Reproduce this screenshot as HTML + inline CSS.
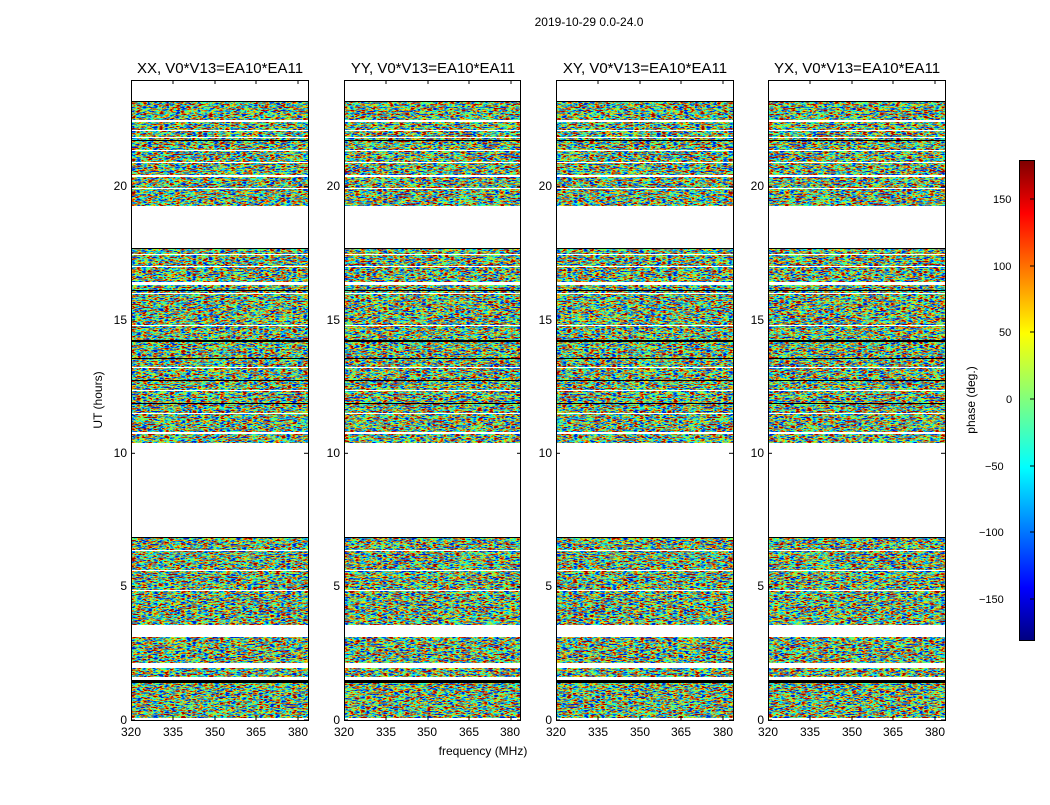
<!DOCTYPE html>
<html><head><meta charset="utf-8"><style>
body{margin:0;background:#fff}
svg text{font-family:"Liberation Sans",sans-serif}
</style></head><body>
<svg width="1050" height="800" xmlns="http://www.w3.org/2000/svg">
<defs>
<linearGradient id="jet" x1="0" y1="1" x2="0" y2="0">
<stop offset="0" stop-color="#00007f"/><stop offset="0.11" stop-color="#0000ff"/>
<stop offset="0.36" stop-color="#00ffff"/><stop offset="0.5" stop-color="#7fff7f"/>
<stop offset="0.64" stop-color="#ffff00"/><stop offset="0.89" stop-color="#ff0000"/>
<stop offset="1" stop-color="#7f0000"/></linearGradient>
<filter id="f1" x="0" y="0" width="1" height="1" color-interpolation-filters="sRGB">
<feTurbulence type="fractalNoise" baseFrequency="0.18 0.7" numOctaves="2" seed="1"/>
<feColorMatrix type="matrix" values="1 0 0 0 0 1 0 0 0 0 1 0 0 0 0 0 0 0 0 1"/>
<feComponentTransfer><feFuncR type="linear" slope="3" intercept="-1"/><feFuncG type="linear" slope="3" intercept="-1"/><feFuncB type="linear" slope="3" intercept="-1"/><feFuncA type="linear" slope="0" intercept="1"/></feComponentTransfer>
<feComponentTransfer><feFuncR type="table" tableValues="0 0 0 0.4 1 1 0.6"/><feFuncG type="table" tableValues="0.1 0.5 1 1 0.9 0.2 0"/><feFuncB type="table" tableValues="0.8 1 1 0.3 0 0 0"/></feComponentTransfer>
</filter>
<filter id="f2" x="0" y="0" width="1" height="1" color-interpolation-filters="sRGB">
<feTurbulence type="fractalNoise" baseFrequency="0.18 0.7" numOctaves="2" seed="7"/>
<feColorMatrix type="matrix" values="1 0 0 0 0 1 0 0 0 0 1 0 0 0 0 0 0 0 0 1"/>
<feComponentTransfer><feFuncR type="linear" slope="3" intercept="-1"/><feFuncG type="linear" slope="3" intercept="-1"/><feFuncB type="linear" slope="3" intercept="-1"/><feFuncA type="linear" slope="0" intercept="1"/></feComponentTransfer>
<feComponentTransfer><feFuncR type="table" tableValues="0 0 0 0.4 1 1 0.6"/><feFuncG type="table" tableValues="0.1 0.5 1 1 0.9 0.2 0"/><feFuncB type="table" tableValues="0.8 1 1 0.3 0 0 0"/></feComponentTransfer>
</filter>
<g id="mask">
<rect x="0" y="0" width="177" height="21" fill="#fff"/>
<rect x="0" y="40" width="177" height="2" fill="#fff"/>
<rect x="0" y="50" width="177" height="1" fill="#fff"/>
<rect x="0" y="57" width="177" height="1" fill="#fff"/>
<rect x="0" y="70" width="177" height="1" fill="#fff"/>
<rect x="0" y="82" width="177" height="1" fill="#fff"/>
<rect x="0" y="95" width="177" height="2" fill="#fff"/>
<rect x="0" y="108" width="177" height="1" fill="#fff"/>
<rect x="0" y="126" width="177" height="42" fill="#fff"/>
<rect x="0" y="174" width="177" height="1" fill="#fff"/>
<rect x="0" y="186" width="177" height="1" fill="#fff"/>
<rect x="0" y="202" width="177" height="3" fill="#fff"/>
<rect x="0" y="213" width="177" height="1" fill="#fff"/>
<rect x="0" y="245" width="177" height="1" fill="#fff"/>
<rect x="0" y="287" width="177" height="1" fill="#fff"/>
<rect x="0" y="310" width="177" height="1" fill="#fff"/>
<rect x="0" y="333" width="177" height="1" fill="#fff"/>
<rect x="0" y="352" width="177" height="2" fill="#fff"/>
<rect x="0" y="363" width="177" height="95" fill="#fff"/>
<rect x="0" y="470" width="177" height="1" fill="#fff"/>
<rect x="0" y="490" width="177" height="1" fill="#fff"/>
<rect x="0" y="510" width="177" height="1" fill="#fff"/>
<rect x="0" y="545" width="177" height="12" fill="#fff"/>
<rect x="0" y="583" width="177" height="5" fill="#fff"/>
<rect x="0" y="597" width="177" height="3" fill="#fff"/>
<rect x="0" y="638" width="177" height="2" fill="#fff"/>
<g fill="#000">
<rect x="0" y="21" width="177" height="1"/><rect x="0" y="60" width="177" height="1"/>
<rect x="0" y="168" width="177" height="1"/><rect x="0" y="210" width="177" height="1"/>
<rect x="0" y="260" width="177" height="2"/><rect x="0" y="278" width="177" height="1"/>
<rect x="0" y="300" width="177" height="1"/><rect x="0" y="323" width="177" height="1"/>
<rect x="0" y="457" width="177" height="1"/><rect x="0" y="600" width="177" height="3"/>
</g></g>
<g id="ticks" stroke="#000">
<line x1="0" y1="640" x2="4" y2="640"/><line x1="0" y1="506.7" x2="4" y2="506.7"/><line x1="0" y1="373.3" x2="4" y2="373.3"/><line x1="0" y1="240" x2="4" y2="240"/><line x1="0" y1="106.7" x2="4" y2="106.7"/>
<line x1="177" y1="640" x2="173" y2="640"/><line x1="177" y1="506.7" x2="173" y2="506.7"/><line x1="177" y1="373.3" x2="173" y2="373.3"/><line x1="177" y1="240" x2="173" y2="240"/><line x1="177" y1="106.7" x2="173" y2="106.7"/>
<line x1="42" y1="0" x2="42" y2="4"/><line x1="84" y1="0" x2="84" y2="4"/><line x1="125" y1="0" x2="125" y2="4"/><line x1="167" y1="0" x2="167" y2="4"/>
<line x1="42" y1="640" x2="42" y2="636"/><line x1="84" y1="640" x2="84" y2="636"/><line x1="125" y1="640" x2="125" y2="636"/><line x1="167" y1="640" x2="167" y2="636"/>
</g>
</defs>
<text x="589" y="26" font-size="12" text-anchor="middle">2019-10-29 0.0-24.0</text>

<g transform="translate(131,80)"><rect width="177" height="640" filter="url(#f1)"/><use href="#mask"/><use href="#ticks"/></g>
<g transform="translate(344,80)"><rect width="176" height="640" filter="url(#f2)"/><use href="#mask"/><use href="#ticks"/></g>
<g transform="translate(556,80)"><rect width="177" height="640" filter="url(#f1)" transform="scale(-1,1) translate(-177,0)"/><use href="#mask"/><use href="#ticks"/></g>
<g transform="translate(768,80)"><rect width="177" height="640" filter="url(#f2)" transform="scale(-1,1) translate(-177,0)"/><use href="#mask"/><use href="#ticks"/></g>

<g fill="none" stroke="#000">
<rect x="131.5" y="80.5" width="177" height="640"/>
<rect x="344.5" y="80.5" width="176" height="640"/>
<rect x="556.5" y="80.5" width="177" height="640"/>
<rect x="768.5" y="80.5" width="177" height="640"/>
</g>
<g font-size="15" text-anchor="middle">
<text x="220" y="73">XX, V0*V13=EA10*EA11</text>
<text x="433" y="73">YY, V0*V13=EA10*EA11</text>
<text x="645" y="73">XY, V0*V13=EA10*EA11</text>
<text x="857" y="73">YX, V0*V13=EA10*EA11</text>
</g>
<g font-size="12" text-anchor="end">
<text x="127" y="724">0</text><text x="127" y="590">5</text><text x="127" y="457">10</text><text x="127" y="324">15</text><text x="127" y="190">20</text>
<text x="340" y="724">0</text><text x="340" y="590">5</text><text x="340" y="457">10</text><text x="340" y="324">15</text><text x="340" y="190">20</text>
<text x="552" y="724">0</text><text x="552" y="590">5</text><text x="552" y="457">10</text><text x="552" y="324">15</text><text x="552" y="190">20</text>
<text x="764" y="724">0</text><text x="764" y="590">5</text><text x="764" y="457">10</text><text x="764" y="324">15</text><text x="764" y="190">20</text>
</g>
<g font-size="12" text-anchor="middle">
<text x="131" y="736">320</text><text x="173" y="736">335</text><text x="215" y="736">350</text><text x="256" y="736">365</text><text x="298" y="736">380</text>
<text x="344" y="736">320</text><text x="386" y="736">335</text><text x="427" y="736">350</text><text x="469" y="736">365</text><text x="510" y="736">380</text>
<text x="556" y="736">320</text><text x="598" y="736">335</text><text x="640" y="736">350</text><text x="681" y="736">365</text><text x="723" y="736">380</text>
<text x="768" y="736">320</text><text x="810" y="736">335</text><text x="852" y="736">350</text><text x="893" y="736">365</text><text x="935" y="736">380</text>
<text x="483" y="755">frequency (MHz)</text>
</g>
<text transform="translate(102,400) rotate(-90)" font-size="12" text-anchor="middle">UT (hours)</text>

<rect x="1019.5" y="160.5" width="15" height="480" fill="url(#jet)" stroke="#000"/>
<g stroke="#000">
<line x1="1034" y1="199" x2="1030" y2="199"/><line x1="1034" y1="266" x2="1030" y2="266"/><line x1="1034" y1="332" x2="1030" y2="332"/><line x1="1034" y1="399" x2="1030" y2="399"/><line x1="1034" y1="466" x2="1030" y2="466"/><line x1="1034" y1="532" x2="1030" y2="532"/><line x1="1034" y1="599" x2="1030" y2="599"/>
</g>
<g font-size="11">
<text x="993" y="203">150</text><text x="993" y="270">100</text><text x="999" y="336">50</text><text x="1006" y="403">0</text><text x="985" y="470">−50</text><text x="979" y="536">−100</text><text x="979" y="603">−150</text>
</g>
<text transform="translate(975,400) rotate(-90)" font-size="12" text-anchor="middle">phase (deg.)</text>
</svg>
</body></html>
